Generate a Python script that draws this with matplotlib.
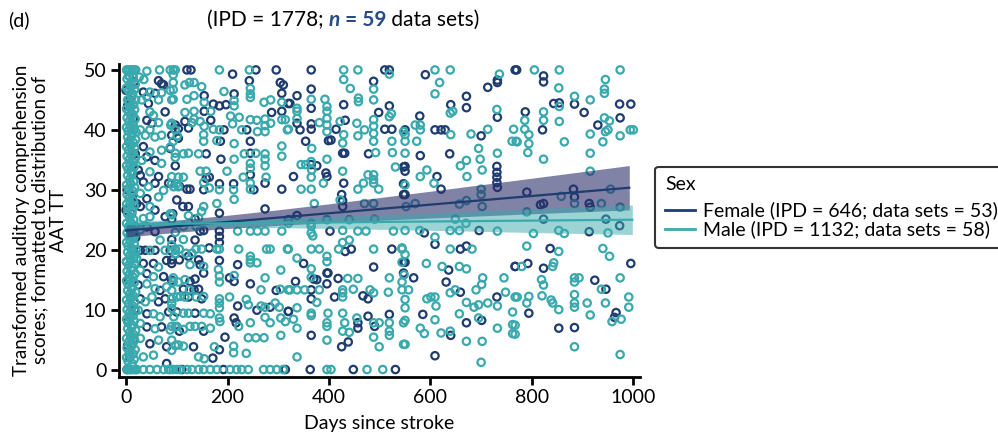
import matplotlib
matplotlib.use("Agg")
import matplotlib.pyplot as plt
from matplotlib.lines import Line2D

plt.rcParams['font.family'] = ['Lato', 'DejaVu Sans']

navy = '#1f3c70'
teal = '#3aa9ad'
title_blue = '#274b85'

# (days since stroke, score), female
female_pts = [
    (770,50),(823,49),(823,48),(843,44.4),(854,44.5),(884,44.3),(973,44.3),(995,44.3),(787,43),(903,42.9),
    (974,42),(930,40.8),(821,40),(790,29.6),(882,30.1),(884,28.8),(817,27.5),(823,27.7),(913,27.7),(915,27.1),
    (823,25.1),(946,25.1),(973,24),(913,23),(836,20.2),(767,17.2),(792,17.7),(823,16.9),(995,17.7),(924,14.9),
    (946,13.4),(794,9.4),(853,6.9),(884,7),(966,9.5),(963,8.7),
    (590,49.2),(671,45.6),(671,43.7),(640,44.2),(713,47.1),(732,48.3),(732,47.9),(767,50),(732,42.1),(579,42.3),
    (550,40),(609,40),(621,40),(629,40),(700,39),(580,35.7),(638,36),(550,33.9),(550,33.1),(731,33.9),
    (731,32.9),(731,32.1),(731,31.2),(732,30.4),(613,32.2),(621,30.1),(550,29.2),(588,22.8),(696,23.2),(609,20.9),
    (550,17.9),(659,20.1),(671,20.6),(636,16.6),(567,15.3),(631,14.6),(659,12.9),(731,12.1),(767,17.2),(671,7.8),
    (585,9.2),(640,5.7),(701,8.2),(609,2.3),
    (365,50),(510,50),(519,50),(488,48.1),(337,45.7),(365,46.8),(365,43.6),(323,44.4),(429,44.2),(498,42.9),
    (519,44),(337,41.1),(343,40),(365,41),(365,40.1),(414,40.1),(432,41.6),(510,40.1),(524,40.1),(354,38.1),
    (399,38.2),(404,38.3),(427,36.1),(431,36.1),(478,36),(365,34.2),(376,34),(330,32.2),(394,32.8),(396,32.2),
    (429,31.1),(547,33.8),(547,31),(425,29.2),(427,28.2),(427,27.2),(547,29.2),(320,25),(337,25.7),(402,23.1),
    (432,19.7),(444,20.1),(524,20.1),(547,17.9),(350,17.7),(398,16.1),(488,17.1),(334,14.7),(370,15.1),(376,15),
    (365,13.3),(365,11.8),(396,16.1),(396,14.3),(418,15.2),(411,12.1),(467,12.3),(477,11.8),(547,16.1),(320,9.7),
    (457,7.8),(457,6.9),(477,8.9),(490,7.2),(519,9.2),(365,5.7),(425,3.8),(438,4.6),(314,0),(363,0),
    (448,0),(531,0),
    (120,50),(128,50),(256,50),(296,50),(154,45.7),(172,44.3),(184,44),(197,44.2),(213,46),(210,49.3),
    (243,48.2),(304,47.9),(310,47.5),(307,46.1),(287,42.9),(307,43.1),(320,44.4),(154,43.1),(116,41.4),(123,40.3),
    (167,41.6),(193,40),(238,40),(245,38.1),(186,38.1),(97,34),(158,36),(187,35.1),(245,36.1),(245,32.5),
    (158,31.9),(164,32.1),(105,30.6),(120,30.1),(126,30.1),(153,30),(184,31),(212,31),(252,30),(274,31.1),
    (307,30.1),(100,28.3),(112,27.2),(123,27.2),(92,26),(90,25.1),(136,25.1),(184,26.1),(274,26.8),(146,23.1),
    (153,23.2),(90,21.7),(184,23.1),(184,22.2),(184,21.2),(136,21.6),(90,18.3),(105,18.3),(123,18.9),(164,20.3),
    (184,18.2),(143,18.3),(146,17.5),(153,16.1),(220,17.5),(126,14.7),(136,15.1),(204,15.3),(213,14.7),(245,14.3),
    (296,13.2),(113,13.4),(134,13.3),(143,13.4),(123,12.1),(149,11.8),(220,10.6),(258,9.9),(284,10.4),(320,9.7),
    (100,9.6),(136,9.4),(213,8.6),(217,7.8),(105,6.4),(153,6.4),(195,5.4),(133,3.8),(184,3.3),(171,1.9),
    (110,0),(192,0),
    (64,48.2),(70,47.7),(74,47.5),(34,46.3),(57,46.1),(44,44.4),(77,43),(41,41.6),(51,41.1),(97,40.8),
    (103,40.2),(90,39.1),(103,38.6),(34,37.2),(87,36.9),(41,35.5),(57,34.9),(24,33.3),(28,32.4),(64,32.2),
    (34,31.3),(57,31.1),(84,31.1),(41,28.5),(21,27.7),(28,27.2),(57,26.6),(77,25.5),(41,23.8),(57,23),
    (28,19.9),(38,19.9),(57,19.9),(87,19.9),(34,17.7),(54,17.7),(80,18.2),(90,17.7),(41,16),(74,15.5),
    (90,14.9),(24,14.1),(67,13.2),(28,11.8),(64,11.3),(77,11.8),(41,9.3),(84,9.6),(41,7.1),(70,7.1),
    (47,4.3),(80,3.8),(80,1),
    (0,46.6),(0,26.6),(8,23.3),(3,44),(6,38),(10,33),(2,30),(12,20),(5,15),(9,12),
    (4,8),(14,5),(7,2),(2,0),(15,42),(18,36),(11,26),(16,48),(6,49),(13,29),
    (1,18),(17,10),(3,4),(19,22),(8,45),
]

# male
male_pts = [
    (805,50),(854,50),(974,50),(945,48.4),(853,47),(943,46.8),(943,46.1),(884,45.6),(915,45),(854,43.9),
    (823,43),(786,41.6),(823,41.6),(854,41.4),(943,42),(953,41.5),(786,40.1),(794,39.2),(915,39.3),(945,39.7),
    (950,40),(974,39),(994,40),(1000,40),(771,38),(794,37.7),(864,38),(940,38),(792,36.2),(915,36.1),
    (823,35.1),(915,33.1),(858,28.9),(955,30.1),(884,27.7),(937,27.7),(974,27.1),(790,26.3),(803,22.7),(853,23.2),
    (864,22.7),(950,22.8),(790,20.6),(853,19.7),(940,20.2),(953,18.9),(780,17.2),(843,17.8),(841,17.2),(819,15),
    (823,14.1),(884,15.3),(893,15.3),(884,14.6),(937,13.4),(974,15.3),(771,12.1),(794,12.2),(790,11.1),(820,12.3),
    (838,11.6),(841,11.1),(853,10),(884,12.5),(884,11.1),(884,10.4),(909,11.1),(915,9.1),(945,11.1),(991,12.1),
    (991,10.4),(767,7.4),(767,5.9),(958,8),(976,8.4),(884,3.8),(974,2.5),
    (609,50),(639,50),(618,47.9),(609,46),(639,42.8),(644,43.1),(736,49.3),(731,43.4),(570,40.8),(580,40.8),
    (580,40),(550,39.2),(550,38.1),(573,38.1),(640,39.2),(680,39.3),(713,40.1),(764,40.1),(761,38.1),(769,38.1),
    (550,36.1),(695,36.9),(698,35.1),(732,36.1),(593,33.3),(580,32.2),(659,34),(671,34.9),(702,33.3),(672,32.2),
    (607,31.1),(550,30.8),(552,27.2),(570,27.7),(657,27.6),(671,28.2),(700,30.1),(700,29.2),(702,27.2),(649,25.1),
    (670,24.4),(550,23.2),(579,23.2),(639,23.2),(657,23.2),(732,23.1),(609,22.1),(544,20.3),(550,19.2),(639,20.1),
    (682,20.1),(592,17.7),(623,17.2),(657,17.2),(671,16.8),(548,15.8),(639,12.8),(649,13.3),(703,15.3),(701,14.2),
    (690,13.3),(745,15.3),(748,12.9),(767,12.1),(544,13.3),(550,11.7),(557,13.3),(593,11.8),(601,12.1),(609,12.1),
    (611,10.6),(671,11.2),(686,10.4),(695,10.8),(713,11.1),(732,10.6),(657,9.3),(550,10.3),(550,8.2),(550,4.2),
    (580,6.9),(588,6),(609,8.3),(639,6.4),(621,6.1),(695,8.6),(732,6.9),(762,9.6),(762,7.5),(762,6),
    (671,4.7),(702,4.7),(700,1.2),
    (429,50),(457,50),(519,49.3),(429,48.4),(442,46.9),(488,46.8),(365,45.1),(337,43.6),(337,43.1),(392,45.1),
    (396,43.9),(396,43.1),(458,45.3),(458,44.7),(488,45),(523,42.7),(519,42.2),(314,41.7),(320,40.1),(337,41.9),
    (381,41.2),(396,41.9),(396,40.8),(396,39.7),(422,41.4),(429,39.2),(427,37.8),(455,41.1),(457,39),(470,40),
    (488,41.7),(488,40.6),(488,39.4),(488,38.1),(547,39.7),(524,38.1),(366,36.9),(396,35.1),(492,36.2),(525,36.2),
    (345,34.2),(354,34.2),(365,34.7),(366,33.3),(365,32.1),(389,31.1),(427,33.1),(477,32.5),(488,32.5),(488,31.7),
    (488,31.1),(498,30.1),(531,33.8),(345,30.1),(365,30.1),(457,30.1),(468,31.1),(422,28.3),(371,27.7),(470,27.7),
    (488,27.7),(320,24.4),(365,24.4),(365,23.9),(365,22.8),(368,22.3),(396,25),(440,25),(457,23.1),(427,23.2),
    (473,23.1),(490,25.1),(527,23.1),(320,20.1),(365,20.1),(381,20.1),(419,20.1),(427,21.2),(440,21.6),(488,20.1),
    (544,20.1),(337,18.6),(365,16.8),(396,18.9),(396,18),(544,17.9),(323,13.3),(337,13.3),(352,13.3),(365,15.4),
    (381,13.3),(376,11.2),(437,15.2),(457,15.2),(427,13.3),(427,12.8),(427,12.1),(448,13.4),(481,13.3),(488,12.8),
    (519,15.3),(517,12.9),(544,14.6),(337,10.3),(330,8.4),(337,6.9),(365,9.4),(365,9),(398,9.4),(396,7.8),
    (396,7.2),(427,9.4),(431,7.8),(455,8.6),(488,7.8),(499,7.8),(519,7.8),(519,6.4),(519,5.7),(547,7.8),
    (396,4.9),(427,6.4),(440,6.2),(488,5.4),(499,3.8),(547,4.2),(337,2.1),(396,0),(404,0),(475,0),
    (506,0),
    (93,50),(184,50),(243,50),(93,49.2),(93,47.9),(93,46.7),(93,45.1),(116,47.5),(125,47.9),(134,47.9),
    (149,47.2),(154,44.6),(134,45.7),(120,45.1),(193,46.4),(213,44.9),(213,44),(245,46.9),(245,46),(245,45.4),
    (272,44.6),(285,45),(307,44.6),(307,41.7),(116,42.9),(134,43.1),(167,43.1),(130,41.2),(90,41.1),(97,40),
    (101,39),(93,38.1),(134,41.8),(146,41.4),(154,40.6),(172,40.1),(184,40),(206,42.3),(210,41),(223,42.1),
    (228,40),(245,41.7),(258,41.6),(259,39.7),(274,41.8),(274,40.7),(274,39.7),(285,41.1),(318,40),(153,39.2),
    (153,38.1),(179,38.2),(213,37.7),(97,36.1),(97,35.4),(87,37.1),(113,36),(123,36.1),(143,36),(213,35.1),
    (233,36),(256,36.1),(274,36),(274,35.1),(274,34),(307,37.3),(307,35.6),(245,34.4),(245,33.6),(146,33.1),
    (158,33.1),(199,33.1),(231,32.1),(103,32.1),(113,32.1),(276,32.1),(90,31),(100,31),(153,31.2),(164,30.3),
    (184,30),(212,30),(245,31.1),(245,30.1),(213,28.4),(179,27.7),(153,27.2),(149,26.4),(123,25.7),(143,25.3),
    (138,23.9),(113,23.9),(97,22.9),(90,20.8),(113,21.7),(220,23.1),(245,23.1),(259,23.1),(274,23.1),(307,23.1),
    (97,20.1),(105,20.1),(97,19.3),(118,19.4),(130,19.4),(138,20.1),(149,20.1),(179,20.1),(184,20.1),(222,20.1),
    (277,20.1),(284,20.1),(318,20.1),(245,18.9),(245,18.3),(245,17.8),(258,17.8),(126,17.5),(153,17.2),(182,16.7),
    (305,16.6),(93,15.3),(93,14.6),(103,14.6),(116,15),(184,15.6),(184,14.6),(213,15.7),(274,15.3),(266,13.3),
    (304,13.4),(320,13.3),(125,13.3),(90,11.8),(100,12.1),(107,12.2),(116,12.1),(138,12.1),(153,12.2),(184,11.8),
    (184,11.1),(184,10.3),(204,12.1),(237,11.7),(241,10.8),(266,10.6),(274,10.4),(294,11.1),(302,10.4),(90,10.2),
    (113,9.4),(123,9.4),(153,9.4),(166,9.3),(184,8.6),(185,8),(222,7.2),(245,7.8),(274,8.7),(284,7.8),
    (305,8.6),(314,8),(90,7.2),(100,7.2),(113,6.7),(126,7.2),(136,7.2),(149,7.2),(166,6.9),(241,5.3),
    (256,5.3),(272,5.3),(305,5.7),(90,4.9),(97,4),(113,3.9),(174,3.8),(212,3.9),(212,2.8),(237,2.7),
    (143,2.1),(154,1.8),(87,0),(100,0),(120,0),(130,0),(143,0),(153,0),(166,0),(179,0),
    (205,0),(218,0),(228,0),(241,0),(271,0),(284,0),(297,0),(310,0),
    (41,49.8),(66,50),(87,50),(97,50),(26,48.8),(35,48.4),(47,46.3),(70,46.2),(87,46.6),(31,45),
    (41,45.5),(64,45),(90,45),(47,43),(54,42.4),(64,41.2),(88,40.8),(28,40),(38,39.1),(47,40),
    (57,38.8),(70,39.1),(47,36.3),(70,36.6),(31,34.9),(70,34.4),(47,33),(90,32.2),(44,30.5),(94,30.5),
    (103,30.5),(28,29.4),(64,28.8),(74,29.9),(47,27.2),(87,26),(34,25.2),(47,25.5),(90,25.8),(28,23.3),
    (67,21.6),(47,19.9),(77,19.9),(97,19.9),(21,18.5),(64,17.1),(28,16.6),(54,15.5),(41,14.3),(57,13.5),
    (80,13.8),(90,13.2),(38,11.3),(51,12.1),(90,11),(24,9.9),(54,9.3),(67,8.8),(94,8.8),(28,7.7),
    (57,6.8),(87,6.6),(97,7.1),(28,5.2),(64,4.9),(90,3.2),(103,4.1),(34,2.1),(54,2.4),(8,0),
    (21,0),(34,0),(47,0),(61,0),(74,0),(84,0),(93,0),(106,0),
    # dense strip in the first weeks
    (1,50),(4,50),(8,50),(12,50),(16,50),(19,50),(2,48.5),(6,49),(10,48),(14,48.8),
    (18,47.6),(1,47),(5,46.5),(9,47.2),(13,46),(17,46.8),(3,45),(7,44.6),(11,45.4),(15,44.2),
    (19,45),(1,43.5),(5,43),(9,43.8),(13,42.6),(17,43.4),(2,42),(6,41.4),(10,42.2),(14,41),
    (18,41.8),(1,40.4),(4,39.8),(8,40.6),(12,39.4),(16,40.2),(20,39.6),(3,38.8),(7,38.2),(11,39),
    (15,37.8),(19,38.4),(1,37.2),(5,36.6),(9,37.4),(13,36.2),(17,37),(2,35.6),(6,35),(10,35.8),
    (14,34.6),(18,35.3),(1,34),(4,33.4),(8,34.2),(12,33),(16,33.8),(3,32.4),(7,31.8),(11,32.6),
    (15,31.4),(1,30.8),(5,30.2),(9,31),(13,29.8),(17,30.4),(2,29.2),(6,28.6),(10,29.4),(14,28.2),
    (1,27.6),(4,27),(8,27.8),(12,26.6),(16,27.3),(3,26),(7,25.4),(11,26.2),(15,25),(1,24.4),
    (5,23.8),(9,24.6),(13,23.4),(17,24),(2,22.8),(6,22.2),(10,23),(14,21.8),(18,22.5),(1,21.2),
    (4,20.6),(8,21.4),(12,20.2),(16,21),(20,20),(3,19.6),(7,19),(11,19.8),(15,18.6),(19,19.3),
    (1,18),(5,17.4),(9,18.2),(13,17),(17,17.7),(2,16.4),(6,15.8),(10,16.6),(14,15.4),(18,16),
    (1,14.8),(4,14.2),(8,15),(12,13.8),(16,14.5),(3,13.2),(7,12.6),(11,13.4),(15,12.2),(19,12.9),
    (1,11.6),(5,11),(9,11.8),(13,10.6),(17,11.3),(2,10),(6,9.4),(10,10.2),(14,9),(18,9.7),
    (1,8.4),(4,7.8),(8,8.6),(12,7.4),(16,8.1),(3,6.8),(7,6.2),(11,7),(15,5.8),(19,6.5),
    (1,5.2),(5,4.6),(9,5.4),(13,4.2),(17,4.9),(2,3.6),(6,3),(10,3.8),(14,2.6),(18,3.3),
    (1,2),(4,1.4),(8,2.2),(12,1),(16,1.7),(2,0),(5,0),(9,0),(13,0),(17,0),(20,0),
]

# fitted lines and 95% bands
female_fit_x = [0, 100, 200, 300, 400, 500, 600, 700, 800, 900, 992]
female_fit = [23.2, 23.92, 24.64, 25.36, 26.08, 26.8, 27.52, 28.24, 28.96, 29.68, 30.34]
female_hi = [24.3, 24.94, 25.74, 26.66, 27.65, 28.7, 29.76, 30.84, 31.93, 33.03, 34.04]
female_lo = [22.1, 22.9, 23.54, 24.06, 24.51, 24.9, 25.28, 25.64, 25.99, 26.33, 26.64]

male_fit_x = [0, 100, 200, 300, 400, 500, 600, 700, 800, 900, 998]
male_fit = [24.25, 24.33, 24.4, 24.48, 24.55, 24.63, 24.7, 24.78, 24.85, 24.93, 25.0]
male_hi = [24.91, 24.93, 25.06, 25.28, 25.55, 25.86, 26.17, 26.51, 26.83, 27.16, 27.47]
male_lo = [23.59, 23.73, 23.74, 23.68, 23.55, 23.4, 23.23, 23.05, 22.87, 22.7, 22.53]

female_label = 'Female (IPD = 646; data sets = 53)'
male_label = 'Male (IPD = 1132; data sets = 58)'

fig = plt.figure(figsize=(9.98, 4.32), dpi=100)
ax = fig.add_axes([0.1192, 0.128, 0.522, 0.724])

fd, fs = zip(*female_pts)
md, ms = zip(*male_pts)
ax.scatter(fd, fs, s=28, facecolors='none', edgecolors=navy, linewidths=1.6, zorder=2)
ax.scatter(md, ms, s=28, facecolors='none', edgecolors=teal, linewidths=1.6, zorder=2)

ax.fill_between(female_fit_x, female_lo, female_hi, color='#2c2f6b', alpha=0.6, lw=0, zorder=3)
ax.fill_between(male_fit_x, male_lo, male_hi, color=teal, alpha=0.5, lw=0, zorder=3)
ax.plot(female_fit_x, female_fit, color=navy, lw=1.6, zorder=4)
ax.plot(male_fit_x, male_fit, color=teal, lw=1.6, zorder=4)

ax.set_xlim(-14, 1013)
ax.set_ylim(-1.2, 51)
ax.set_xticks([0, 200, 400, 600, 800, 1000])
ax.set_yticks([0, 10, 20, 30, 40, 50])
for s in ['top', 'right']:
    ax.spines[s].set_visible(False)
for s in ['left', 'bottom']:
    ax.spines[s].set_linewidth(2)
ax.tick_params(width=2, length=6, labelsize=14, pad=3)

ax.set_xlabel('Days since stroke', fontsize=14, labelpad=6)
ax.set_ylabel('Transformed auditory comprehension\nscores; formatted to distribution of\nAAT TT',
              fontsize=13.5, linespacing=1.12)
ax.yaxis.set_label_coords(-0.1, 0.5)

handles = [Line2D([], [], color=navy, lw=2), Line2D([], [], color=teal, lw=2)]
leg = fig.legend(handles, [female_label, male_label], title='Sex', loc='upper left',
                 bbox_to_anchor=(0.647, 0.637), fontsize=14, title_fontsize=14,
                 alignment='left', handlelength=1.55, handletextpad=0.4,
                 labelspacing=0.05, borderpad=0.5, frameon=True, fancybox=True)
leg._legend_box.sep = 6  # extra gap under the "Sex" title
leg.get_frame().set_edgecolor('black')
leg.get_frame().set_linewidth(1.5)

fig.text(0.008, 0.954, '(d)', fontsize=14, va='center', ha='left')
t1 = fig.text(0.207, 0.954, '(IPD = 1778; ', fontsize=15, va='center', ha='left')
t2 = ax.annotate('n', xy=(1, 0), xycoords=t1, va='bottom', ha='left', fontsize=15,
                 fontweight='bold', fontstyle='italic', color=title_blue, annotation_clip=False)
t3 = ax.annotate(' = 59', xy=(1, 0), xycoords=t2, va='bottom', ha='left', fontsize=15,
                 fontweight='bold', color=title_blue, annotation_clip=False)
ax.annotate(' data sets)', xy=(1, 0), xycoords=t3, va='bottom', ha='left', fontsize=15,
            annotation_clip=False)

fig.savefig('out.png', dpi=100)
